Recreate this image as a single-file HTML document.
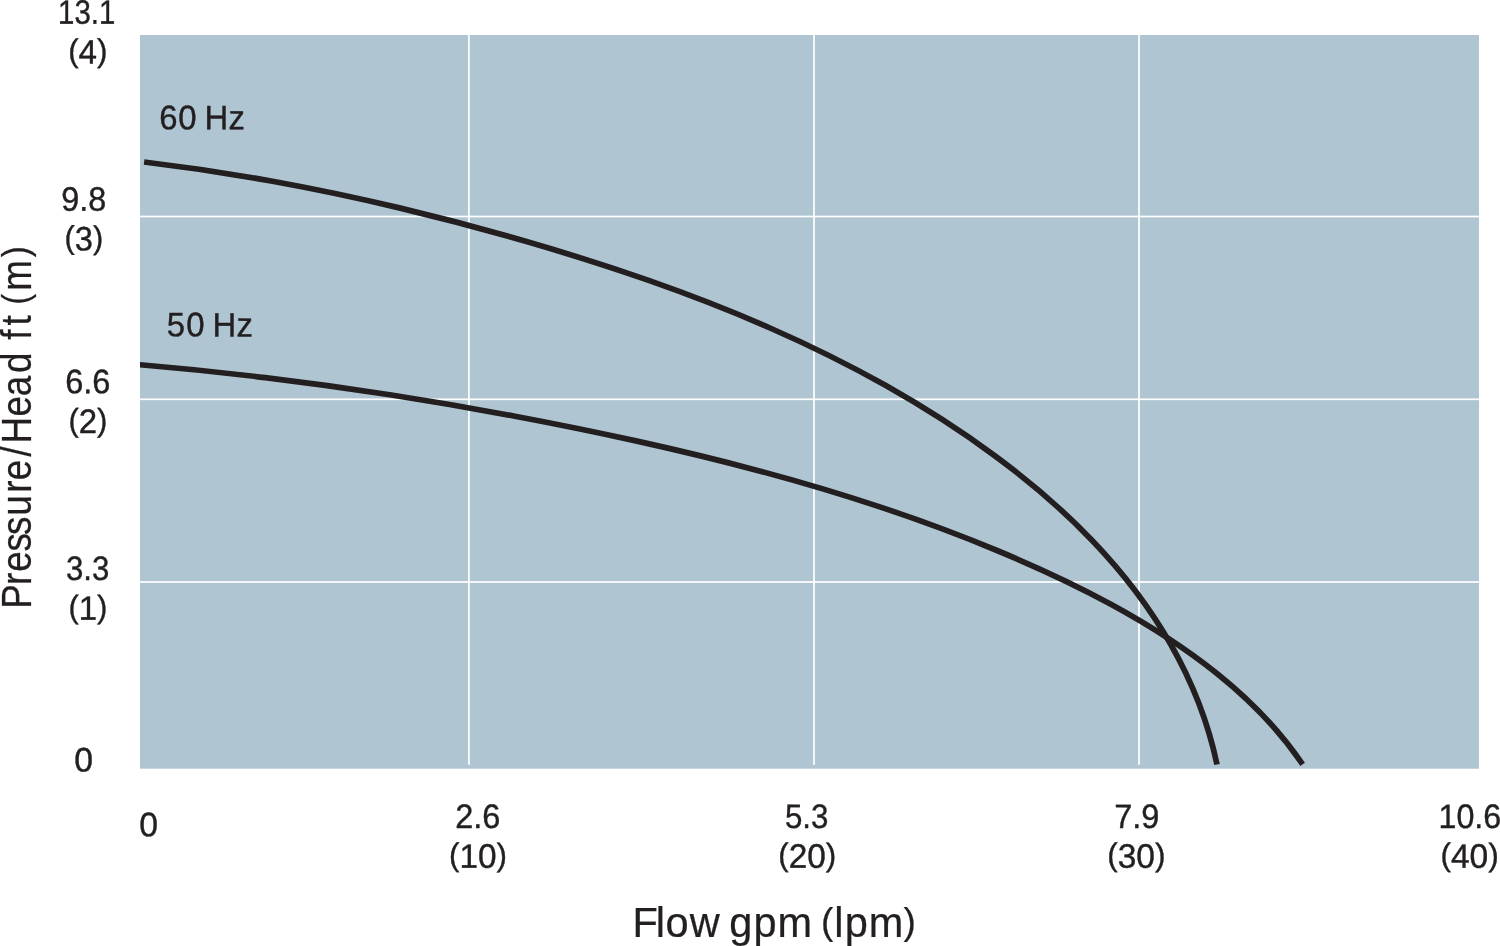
<!DOCTYPE html>
<html lang="en">
<head>
<meta charset="utf-8">
<title>Pump performance curve</title>
<style>
html,body{margin:0;padding:0;background:#fff;}
body{width:1500px;height:946px;overflow:hidden;}
svg{display:block;}
text{font-family:'Liberation Sans', sans-serif;fill:#231f20;stroke:#231f20;}
</style>
</head>
<body>
<svg width="1500" height="946" viewBox="0 0 1500 946" role="img" aria-label="Pump performance curves: pressure/head versus flow at 60 Hz and 50 Hz">
<rect x="0" y="0" width="1500" height="946" fill="#fff"/>
<rect x="140.0" y="35.0" width="1339.0" height="733.70" fill="#afc6d2"/>
<g fill="#fff"><rect x="468.05" y="35.0" width="1.7" height="729.80"/><rect x="813.15" y="35.0" width="1.7" height="729.80"/><rect x="1138.15" y="35.0" width="1.7" height="729.80"/><rect x="140.0" y="215.65" width="1339.0" height="1.7"/><rect x="140.0" y="398.45" width="1339.0" height="1.7"/><rect x="140.0" y="581.15" width="1339.0" height="1.7"/></g>
<clipPath id="plot"><rect x="140.0" y="35.0" width="1339.0" height="733.70"/></clipPath>
<g fill="none" stroke="#231f20" stroke-width="5.7" clip-path="url(#plot)">
<path d="M144.10,161.97 C187.16,167.09 229.94,173.56 272.47,181.26 C315.00,188.96 357.28,197.88 399.32,207.89 C441.36,217.90 483.17,229.00 524.76,241.06 C566.36,253.11 607.75,266.11 648.64,280.42 C689.53,294.74 729.91,310.38 769.47,327.74 C809.04,345.09 847.78,364.17 885.41,385.35 C923.03,406.53 959.59,429.82 994.58,455.61 C1029.58,481.40 1062.83,509.69 1092.68,540.91 C1122.53,572.13 1149.01,606.34 1170.39,643.73 C1191.76,681.12 1207.98,721.55 1217.01,764.52"/>
<path d="M136.00,364.41 L140.00,364.75 C181.85,368.29 223.58,372.59 265.21,377.60 C306.83,382.61 348.34,388.34 389.75,394.74 C431.16,401.15 472.46,408.24 513.67,415.99 C554.88,423.73 596.02,432.08 637.01,441.15 C678.01,450.23 718.84,460.06 759.37,470.93 C799.89,481.79 840.11,493.70 879.86,506.91 C919.62,520.12 958.92,534.64 997.60,550.75 C1036.29,566.86 1074.50,584.40 1111.36,604.48 C1148.21,624.55 1183.90,647.05 1216.63,673.22 C1249.36,699.38 1278.92,729.43 1302.60,764.30"/>
</g>
<g>
<text transform="matrix(0.8643 0.002 -0.002 1 58.09 23.73)" font-size="34.0" stroke-width="0.4">13.1</text>
<text transform="matrix(0.9769 0.002 -0.002 1 68.14 63.51)" font-size="34.0" stroke-width="0.4"><tspan font-size="32.0" dy="-2.05">(</tspan><tspan dy="2.05">4</tspan><tspan font-size="32.0" dy="-2.05">)</tspan></text>
<text transform="matrix(0.9506 0.002 -0.002 1 61.22 210.75)" font-size="34.0" stroke-width="0.4">9.8</text>
<text transform="matrix(0.9605 0.002 -0.002 1 64.47 250.36)" font-size="34.0" stroke-width="0.4"><tspan font-size="32.0" dy="-2.05">(</tspan><tspan dy="2.05">3</tspan><tspan font-size="32.0" dy="-2.05">)</tspan></text>
<text transform="matrix(0.9573 0.002 -0.002 1 65.21 393.30)" font-size="34.0" stroke-width="0.4">6.6</text>
<text transform="matrix(0.9687 0.002 -0.002 1 68.45 433.06)" font-size="34.0" stroke-width="0.4"><tspan font-size="32.0" dy="-2.05">(</tspan><tspan dy="2.05">2</tspan><tspan font-size="32.0" dy="-2.05">)</tspan></text>
<text transform="matrix(0.9162 0.002 -0.002 1 66.00 580.00)" font-size="34.0" stroke-width="0.4">3.3</text>
<text transform="matrix(0.9687 0.002 -0.002 1 68.45 619.71)" font-size="34.0" stroke-width="0.4"><tspan font-size="32.0" dy="-2.05">(</tspan><tspan dy="2.05">1</tspan><tspan font-size="32.0" dy="-2.05">)</tspan></text>
<text transform="matrix(0.9909 0.002 -0.002 1 74.36 771.38)" font-size="34.0" stroke-width="0.4">0</text>
<text transform="matrix(0.9909 0.002 -0.002 1 139.36 836.18)" font-size="34.0" stroke-width="0.4">0</text>
<text transform="matrix(0.9551 0.002 -0.002 1 455.22 827.90)" font-size="34.0" stroke-width="0.4">2.6</text>
<text transform="matrix(0.9784 0.002 -0.002 1 449.04 867.64)" font-size="34.0" stroke-width="0.4"><tspan font-size="32.0" dy="-2.05">(</tspan><tspan dy="2.05">10</tspan><tspan font-size="32.0" dy="-2.05">)</tspan></text>
<text transform="matrix(0.9184 0.002 -0.002 1 784.90 827.90)" font-size="34.0" stroke-width="0.4">5.3</text>
<text transform="matrix(0.9784 0.002 -0.002 1 778.24 867.64)" font-size="34.0" stroke-width="0.4"><tspan font-size="32.0" dy="-2.05">(</tspan><tspan dy="2.05">20</tspan><tspan font-size="32.0" dy="-2.05">)</tspan></text>
<text transform="matrix(0.9559 0.002 -0.002 1 1114.22 827.90)" font-size="34.0" stroke-width="0.4">7.9</text>
<text transform="matrix(0.9838 0.002 -0.002 1 1107.23 867.64)" font-size="34.0" stroke-width="0.4"><tspan font-size="32.0" dy="-2.05">(</tspan><tspan dy="2.05">30</tspan><tspan font-size="32.0" dy="-2.05">)</tspan></text>
<text transform="matrix(0.9478 0.002 -0.002 1 1438.48 827.88)" font-size="34.0" stroke-width="0.4">10.6</text>
<text transform="matrix(0.9856 0.002 -0.002 1 1440.43 867.64)" font-size="34.0" stroke-width="0.4"><tspan font-size="32.0" dy="-2.05">(</tspan><tspan dy="2.05">40</tspan><tspan font-size="32.0" dy="-2.05">)</tspan></text>
<text transform="matrix(0.9651 0.002 -0.002 1 0 128.80)" font-size="34.0" stroke-width="0.4" x="164.92 184.65 203.52 211.92 236.83" y="0">60 Hz</text>
<text transform="matrix(0.9651 0.002 -0.002 1 0 335.98)" font-size="34.0" stroke-width="0.4" x="172.81 192.97 211.65 220.19 245.15" y="0">50 Hz</text>
<text transform="matrix(0.9953 0 0 1 0 937.20)" font-size="41.7" stroke-width="0.25" x="635.60 658.96 668.54 693.09 723.56 732.74 756.98 781.24 814.38 824.92 838.10 848.80 872.97 907.80" y="0">Flow gpm <tspan font-size="37.3" dy="-3.4">(</tspan><tspan dy="3.4">lpm</tspan><tspan font-size="37.3" dy="-3.4">)</tspan></text>
<text transform="matrix(0 -0.8835 1 0 30.90 604.70)" font-size="41.7" stroke-width="0.25" x="-4.48 22.33 37.33 60.32 78.88 100.66 126.80 140.83 167.52 182.39 213.09 235.87 262.32 285.54 299.97 316.11 328.20 339.59 355.33 393.32" y="0">Pressure/Head ft <tspan font-size="37.3" dy="-3.4">(</tspan><tspan dy="3.4">m</tspan><tspan font-size="37.3" dy="-3.4">)</tspan></text>
</g>
</svg>
</body>
</html>
